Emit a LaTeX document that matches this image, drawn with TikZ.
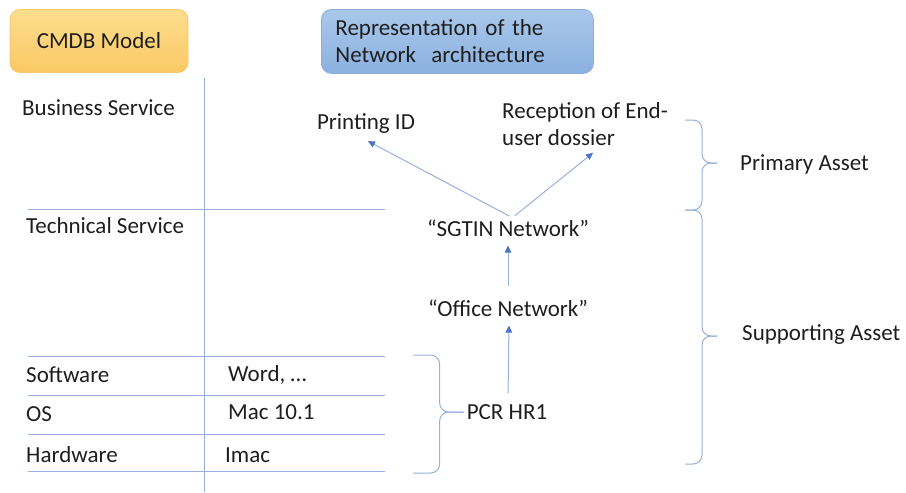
\documentclass[tikz,border=0pt]{standalone}
\usepackage{fontspec}
\setmainfont{Carlito}
\usetikzlibrary{arrows.meta, positioning, calc}
\definecolor{inkblk}{HTML}{1E1E1E}
\definecolor{lnblue}{HTML}{97B0DE}
\definecolor{arrblue}{HTML}{4A74C6}
\definecolor{orgtop}{HTML}{FEDD8F}
\definecolor{orgbot}{HTML}{FAC964}
\definecolor{orgline}{HTML}{F6C76C}
\definecolor{blutop}{HTML}{A9C8EA}
\definecolor{blubot}{HTML}{8BB1E0}
\definecolor{bluline}{HTML}{8DAEDB}

\begin{document}
\begin{tikzpicture}[
  x=1pt, y=-1pt,
  every node/.style={font=\fontsize{23}{27}\selectfont, text=inkblk},
  head/.style={rounded corners=10pt, line width=0.8pt, align=left},
  lbl/.style={anchor=west, inner sep=0pt},
  asset/.style={align=left, inner sep=3pt},
  grid/.style={lnblue, line width=1pt},
  arr/.style={lnblue, line width=1pt,
    -{Triangle[length=7pt, width=6.5pt, color=arrblue]}},
  brc/.style={lnblue, line width=1pt, rounded corners=9pt},
]

\useasboundingbox (0,0) rectangle (906,493);

% === Headers ===
\node[head, draw=orgline, top color=orgtop, bottom color=orgbot,
  minimum width=178pt, minimum height=63pt, align=center] (cmdb) at (99,41)
  {CMDB Model};
\node[head, draw=bluline, top color=blutop, bottom color=blubot,
  text width=244pt, inner xsep=14pt, minimum height=64pt,
  anchor=north west] (repr) at (321,9)
  {Representation of the\\Network\ \ architecture};

% === CMDB table ===
\draw[grid] (204,78) -- (204,492);
\draw[grid] (28,209) -- (385,209);
\foreach \yy in {356,395,434,471}
  \draw[grid] (28,\yy) -- (385,\yy);

\node[lbl] (bsvc) at (22,108) {Business Service};
\node[lbl] (tsvc) at (26,226) {Technical Service};
\node[lbl] (sw) at (26,375) {Software};
\node[lbl] (os) at (26,414) {OS};
\node[lbl] (hw) at (26,455) {Hardware};
\node[lbl] (word) at (228,375) {Word, \ldots};
\node[lbl] (mac) at (228,412) {Mac 10.1};
\node[lbl] (imac) at (225,455) {Imac};

% === Network architecture ===
\node[asset] (print) at (366,124) {Printing ID};
\node[asset, anchor=west] (recep) at (499,124)
  {Reception of End-\\user dossier};
\node[asset] (sgtin) at (508,228) {``SGTIN Network''};
\node[asset] (office) at (508,308) {``Office Network''};
\node[asset] (pcr) at (507,412) {PCR HR1};

\draw[arr, shorten <=1pt] ([xshift=2pt]sgtin.north) -- ([xshift=2pt, yshift=-4pt]print.south);
\draw[arr, shorten <=1pt] ([xshift=6pt]sgtin.north) -- ([xshift=8pt, yshift=-4pt]recep.south);
\draw[arr, shorten <=10pt, shorten >=6pt] (office.north) -- (sgtin.south);
\draw[arr, shorten <=8pt, shorten >=6pt] ([xshift=1pt]pcr.north) -- ([xshift=1pt]office.south);

% === Braces ===
\coordinate (hwtop) at (413,355);
\coordinate (hwbot) at (413,473);
\coordinate (hwtip) at (pcr.west);
\draw[brc] (hwtop) -| ($(hwtip)+(-24,0)$) -- (hwtip);
\draw[brc] (hwbot) -| ($(hwtip)+(-24,0)$) -- (hwtip);

\coordinate (primtop) at (685,120);
\coordinate (primbot) at (685,210);
\coordinate (primtip) at (717,163);
\coordinate (suppbot) at (685,464);
\coordinate (supptip) at (717,336);
\draw[brc] (primtop) -| ($(primtip)+(-15,0)$) -- (primtip);
\draw[brc] (primbot) -| ($(primtip)+(-15,0)$) -- (primtip);
\draw[brc] (primbot) -| ($(supptip)+(-15,0)$) -- (supptip);
\draw[brc] (suppbot) -| ($(supptip)+(-15,0)$) -- (supptip);

\node[lbl] (prim) at (740,164) {Primary Asset};
\node[lbl] (supp) at (742,335) {Supporting Asset};

\end{tikzpicture}
\end{document}
